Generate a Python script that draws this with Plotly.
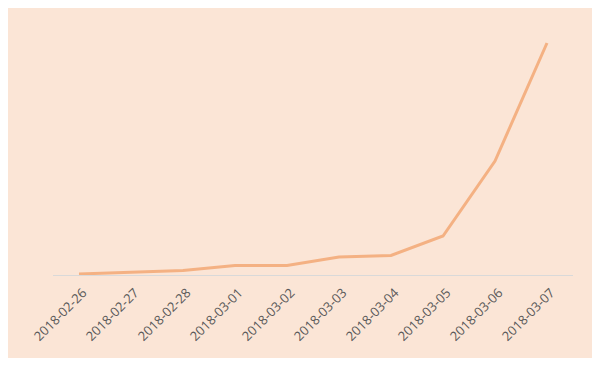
import plotly.graph_objects as go

dates = ["2018-02-26", "2018-02-27", "2018-02-28", "2018-03-01", "2018-03-02",
         "2018-03-03", "2018-03-04", "2018-03-05", "2018-03-06", "2018-03-07"]
values = [1, 2.5, 4.5, 9.5, 9.5, 18, 19.5, 39, 114, 232]

fig = go.Figure()
fig.add_trace(go.Scatter(
    x=dates, y=values, mode="lines",
    line=dict(color="#F4B183", width=3),
    hoverinfo="x+y",
))

fig.update_layout(
    width=585, height=350,
    margin=dict(l=45, r=20, t=20, b=83),
    paper_bgcolor="#FBE5D6",
    plot_bgcolor="rgba(0,0,0,0)",
    showlegend=False,
    xaxis=dict(
        type="category",
        tickangle=-45,
        showgrid=False, zeroline=False,
        showline=True, linecolor="#D9D9D9", linewidth=1,
        ticks="", ticklen=0,
        ticklabelshift=4, ticklabelstandoff=4,
        tickfont=dict(family="Open Sans, Liberation Sans, sans-serif", size=13, color="#595959"),
        range=[-0.5, 9.5],
    ),
    yaxis=dict(
        range=[0, 247],
        showgrid=False, zeroline=False, showline=False,
        showticklabels=False, ticks="",
    ),
)

fig.write_html("out.html")
